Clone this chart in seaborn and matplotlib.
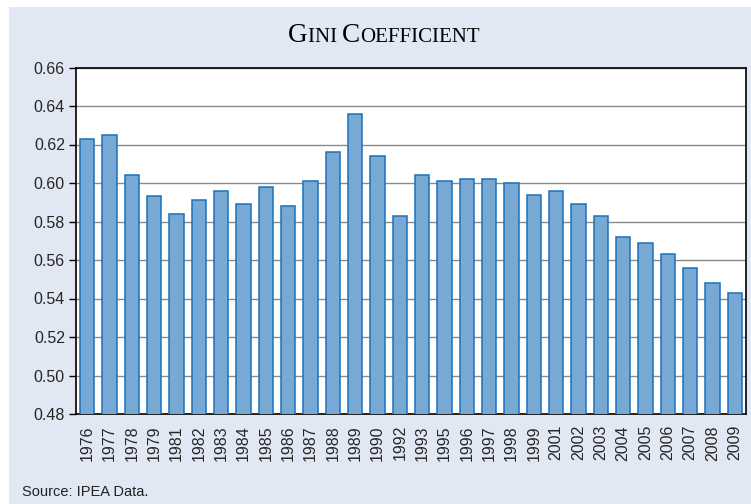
import matplotlib
matplotlib.use("Agg")
import matplotlib.pyplot as plt
import seaborn as sns
import pandas as pd
from matplotlib.patches import Rectangle

years = ["1976", "1977", "1978", "1979", "1981", "1982", "1983", "1984", "1985", "1986",
         "1987", "1988", "1989", "1990", "1992", "1993", "1995", "1996", "1997", "1998",
         "1999", "2001", "2002", "2003", "2004", "2005", "2006", "2007", "2008", "2009"]
gini = [0.623, 0.625, 0.604, 0.593, 0.584, 0.591, 0.596, 0.589, 0.598, 0.588,
        0.601, 0.616, 0.636, 0.614, 0.583, 0.604, 0.601, 0.602, 0.602, 0.600,
        0.594, 0.596, 0.589, 0.583, 0.572, 0.569, 0.563, 0.556, 0.548, 0.543]
yticks = [0.48, 0.50, 0.52, 0.54, 0.56, 0.58, 0.60, 0.62, 0.64, 0.66]

df = pd.DataFrame({"year": years, "gini": gini})

sns.set_style("white")
plt.rcParams['font.family'] = ['Liberation Sans', 'DejaVu Sans']

W, H = 751, 504
fig = plt.figure(figsize=(W / 100, H / 100), dpi=100, facecolor="white")
panel_col = "#E1E8F4"
fig.patches.append(Rectangle((9 / W, 0), 1, (H - 7) / H, transform=fig.transFigure,
                             facecolor=panel_col, edgecolor="none", zorder=-10))

ax = fig.add_axes([76 / W, (H - 414) / H, (746 - 76) / W, (414 - 67.5) / H])
ax.set_facecolor("white")

sns.barplot(data=df, x="year", y="gini", ax=ax, color="#78A9D4", width=0.65,
            edgecolor="#1A72BC", linewidth=1.1, saturation=1, zorder=3)
for p in ax.patches:
    p.set_facecolor("#78A9D4")

ax.set_ylim(0.48, 0.66)
ax.set_xlim(-0.5, len(years) - 0.5)
ax.set_yticks(yticks)
ax.set_yticklabels([f"{v:.2f}" for v in yticks], fontsize=11.5)
ax.yaxis.grid(True, color="#8a8a8a", linewidth=1, zorder=0)
ax.set_axisbelow(True)

# labels at category centres, ticks at boundaries
ax.set_xticks(range(len(years)))
ax.set_xticklabels(years, rotation=90, fontsize=11.5)
ax.tick_params(axis="x", which="major", length=0, pad=8)
ax.set_xticks([i - 0.5 for i in range(len(years) + 1)], minor=True)
ax.tick_params(axis="x", which="minor", length=5, width=1, color="black", direction="out")
ax.tick_params(axis="y", length=5, width=1, color="black", direction="out", pad=3, left=True)
ax.set_xlabel("")
ax.set_ylabel("")
for s in ax.spines.values():
    s.set_visible(True)
    s.set_color("black")
    s.set_linewidth(1.2)

# Small-caps title
fig.canvas.draw()
renderer = fig.canvas.get_renderer()
pieces = [("G", 19.5), ("INI ", 15), ("C", 19.5), ("OEFFICIENT", 15)]
texts = []
for s, fs in pieces:
    t = fig.text(0, 1 - 41.5 / H, s, fontsize=fs, family="Liberation Serif",
                 ha="left", va="baseline", color="black")
    texts.append(t)
fig.canvas.draw()
widths = [t.get_window_extent(renderer).width for t in texts]
total = sum(widths)
start = 384 - total / 2
for t, w in zip(texts, widths):
    t.set_x(start / W)
    start += w

fig.text(22.5 / W, (H - 495.5) / H, "Source: IPEA Data.", fontsize=10.5, ha="left",
         va="baseline", color="#222222")

fig.savefig("out.png", dpi=100, facecolor="white")
